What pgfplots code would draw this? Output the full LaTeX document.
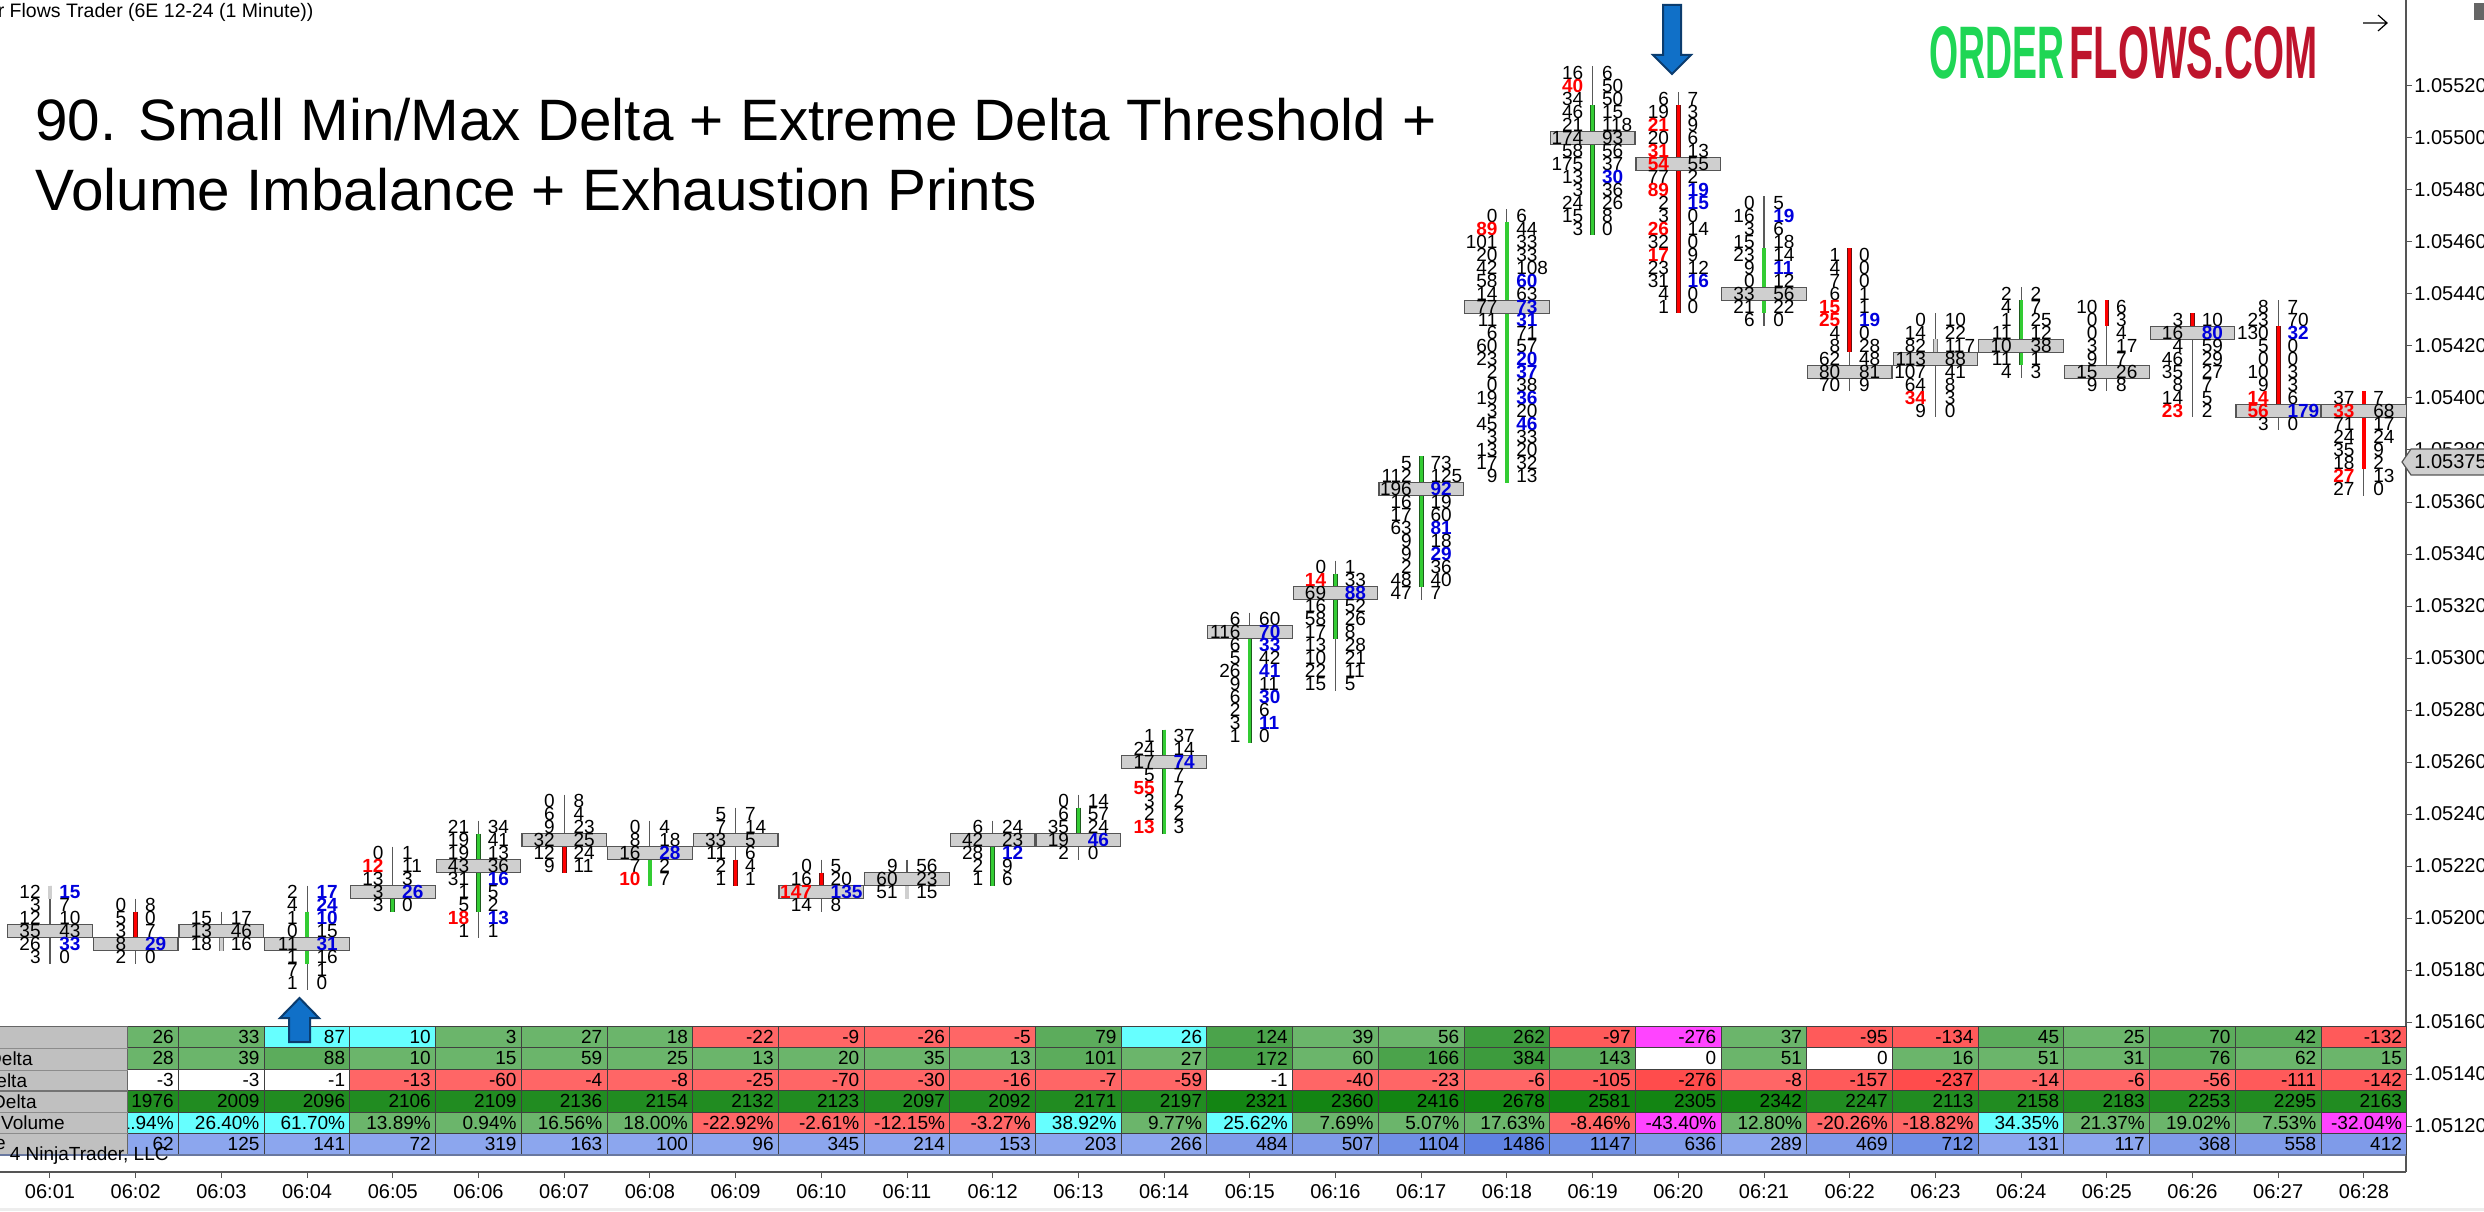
\documentclass[border=0pt]{standalone}
\usepackage{pgfplots}
\usepackage{pgfplotstable}
\usepackage{fontspec}
\pgfplotsset{compat=1.18}
\setmainfont{Liberation Sans}
\protected\def\R#1{\textcolor[HTML]{FF0000}{\bfseries #1}}
\protected\def\B#1{\textcolor[HTML]{0000DD}{\bfseries #1}}
\definecolor{gbar}{HTML}{33CC33}
\definecolor{rbar}{HTML}{FF0000}
\definecolor{gedge}{HTML}{1E5A1E}
\definecolor{redge}{HTML}{6A1010}
\definecolor{pocf}{HTML}{CFCFCF}
\definecolor{arrowf}{HTML}{1070C8}
\definecolor{arrowd}{HTML}{0B3C6E}
\definecolor{labelgray}{HTML}{C0C0C0}
\definecolor{axisc}{HTML}{555555}
\pgfdeclareplotmark{poc}{\pgfpathrectangle{\pgfpoint{-21.15pt}{-3.25pt}}{\pgfpoint{42.3pt}{6.5pt}}\pgfusepathqfillstroke}
\pgfdeclareplotmark{cell}{\pgfpathrectangle{\pgfpoint{-21.425pt}{-5.36pt}}{\pgfpoint{42.85pt}{10.72pt}}\pgfusepathqfillstroke}
% footprint: bar, price (1.05xxx -> xxx), bid, ask
\pgfplotstableread[row sep=\\]{
x v bid ask\\
1 210 12 \B{15}\\ 1 205 3 7\\ 1 200 12 10\\ 1 195 35 43\\ 1 190 26 \B{33}\\ 1 185 3 0\\
2 205 0 8\\ 2 200 5 0\\ 2 195 3 7\\ 2 190 8 \B{29}\\ 2 185 2 0\\
3 200 15 17\\ 3 195 13 46\\ 3 190 18 16\\
4 210 2 \B{17}\\ 4 205 4 \B{24}\\ 4 200 1 \B{10}\\ 4 195 0 15\\ 4 190 11 \B{31}\\ 4 185 1 16\\ 4 180 7 1\\ 4 175 1 0\\
5 225 0 1\\ 5 220 \R{12} 11\\ 5 215 13 3\\ 5 210 3 \B{26}\\ 5 205 3 0\\
6 235 21 34\\ 6 230 19 41\\ 6 225 19 13\\ 6 220 43 36\\ 6 215 31 \B{16}\\ 6 210 1 5\\ 6 205 5 2\\ 6 200 \R{18} \B{13}\\ 6 195 1 1\\
7 245 0 8\\ 7 240 6 4\\ 7 235 9 23\\ 7 230 32 25\\ 7 225 12 24\\ 7 220 9 11\\
8 235 0 4\\ 8 230 8 18\\ 8 225 16 \B{28}\\ 8 220 7 2\\ 8 215 \R{10} 7\\
9 240 5 7\\ 9 235 7 14\\ 9 230 33 5\\ 9 225 11 6\\ 9 220 2 4\\ 9 215 1 1\\
10 220 0 5\\ 10 215 16 20\\ 10 210 \R{147} \B{135}\\ 10 205 14 8\\
11 220 9 56\\ 11 215 60 23\\ 11 210 51 15\\
12 235 6 24\\ 12 230 42 23\\ 12 225 28 \B{12}\\ 12 220 2 9\\ 12 215 1 6\\
13 245 0 14\\ 13 240 6 57\\ 13 235 35 24\\ 13 230 19 \B{46}\\ 13 225 2 0\\
14 270 1 37\\ 14 265 24 14\\ 14 260 17 \B{74}\\ 14 255 5 7\\ 14 250 \R{55} 7\\ 14 245 3 2\\ 14 240 2 2\\ 14 235 \R{13} 3\\
15 315 6 60\\ 15 310 116 \B{70}\\ 15 305 6 \B{33}\\ 15 300 5 42\\ 15 295 26 \B{41}\\ 15 290 9 11\\ 15 285 6 \B{30}\\ 15 280 2 6\\ 15 275 3 \B{11}\\ 15 270 1 0\\
16 335 0 1\\ 16 330 \R{14} 33\\ 16 325 69 \B{88}\\ 16 320 16 52\\ 16 315 58 26\\ 16 310 17 8\\ 16 305 13 28\\ 16 300 10 21\\ 16 295 22 11\\ 16 290 15 5\\
17 375 5 73\\ 17 370 112 125\\ 17 365 196 \B{92}\\ 17 360 16 19\\ 17 355 17 60\\ 17 350 63 \B{81}\\ 17 345 9 18\\ 17 340 9 \B{29}\\ 17 335 2 36\\ 17 330 48 40\\ 17 325 47 7\\
18 470 0 6\\ 18 465 \R{89} 44\\ 18 460 101 33\\ 18 455 20 33\\ 18 450 42 108\\ 18 445 58 \B{60}\\ 18 440 14 63\\ 18 435 77 \B{73}\\ 18 430 11 \B{31}\\ 18 425 6 71\\ 18 420 60 57\\ 18 415 23 \B{20}\\ 18 410 2 \B{37}\\ 18 405 0 38\\ 18 400 19 \B{36}\\ 18 395 3 20\\ 18 390 45 \B{46}\\ 18 385 3 33\\ 18 380 13 20\\ 18 375 17 32\\ 18 370 9 13\\
19 525 16 6\\ 19 520 \R{40} 50\\ 19 515 34 50\\ 19 510 46 15\\ 19 505 21 118\\ 19 500 174 93\\ 19 495 58 56\\ 19 490 175 37\\ 19 485 13 \B{30}\\ 19 480 3 36\\ 19 475 24 26\\ 19 470 15 8\\ 19 465 3 0\\
20 515 6 7\\ 20 510 19 3\\ 20 505 \R{21} 9\\ 20 500 20 6\\ 20 495 \R{31} 13\\ 20 490 \R{54} 55\\ 20 485 77 2\\ 20 480 \R{89} \B{19}\\ 20 475 2 \B{15}\\ 20 470 3 0\\ 20 465 \R{26} 14\\ 20 460 32 0\\ 20 455 \R{17} 9\\ 20 450 23 12\\ 20 445 31 \B{16}\\ 20 440 4 0\\ 20 435 1 0\\
21 475 0 5\\ 21 470 16 \B{19}\\ 21 465 3 6\\ 21 460 15 18\\ 21 455 23 14\\ 21 450 9 \B{11}\\ 21 445 0 12\\ 21 440 33 56\\ 21 435 21 22\\ 21 430 6 0\\
22 455 1 0\\ 22 450 4 0\\ 22 445 7 0\\ 22 440 6 1\\ 22 435 \R{15} 1\\ 22 430 \R{25} \B{19}\\ 22 425 4 0\\ 22 420 8 28\\ 22 415 62 48\\ 22 410 80 81\\ 22 405 70 9\\
23 430 0 10\\ 23 425 14 22\\ 23 420 82 117\\ 23 415 113 88\\ 23 410 107 41\\ 23 405 64 8\\ 23 400 \R{34} 3\\ 23 395 9 0\\
24 440 2 2\\ 24 435 4 7\\ 24 430 1 25\\ 24 425 11 12\\ 24 420 10 38\\ 24 415 11 1\\ 24 410 4 3\\
25 435 10 6\\ 25 430 0 3\\ 25 425 0 4\\ 25 420 3 17\\ 25 415 9 7\\ 25 410 15 26\\ 25 405 9 8\\
26 430 3 10\\ 26 425 16 \B{80}\\ 26 420 4 59\\ 26 415 46 29\\ 26 410 35 27\\ 26 405 8 7\\ 26 400 14 5\\ 26 395 \R{23} 2\\
27 435 8 7\\ 27 430 23 70\\ 27 425 130 \B{32}\\ 27 420 5 0\\ 27 415 0 0\\ 27 410 10 3\\ 27 405 9 3\\ 27 400 \R{14} 6\\ 27 395 \R{56} \B{179}\\ 27 390 3 0\\
28 400 37 7\\ 28 395 \R{33} 68\\ 28 390 71 17\\ 28 385 24 24\\ 28 380 35 9\\ 28 375 18 2\\ 28 370 \R{27} 13\\ 28 365 27 0\\
}\footprint
% point of control per bar
\pgfplotstableread[row sep=\\]{
x v\\
1 195\\ 2 190\\ 3 195\\ 4 190\\ 5 210\\ 6 220\\ 7 230\\ 8 225\\ 9 230\\ 10 210\\ 11 215\\ 12 230\\ 13 230\\ 14 260\\ 15 310\\ 16 325\\ 17 365\\ 18 435\\ 19 500\\ 20 490\\ 21 440\\ 22 410\\ 23 415\\ 24 420\\ 25 410\\ 26 425\\ 27 395\\ 28 395\\
}\pocs
% table rows: bar, row height, colour index, text
\pgfplotstableread[row sep=\\]{
x y c t\\
2 113 12 62\\ 3 113 12 125\\ 4 113 12 141\\ 5 113 12 72\\ 6 113 12 319\\ 7 113 12 163\\ 8 113 12 100\\ 9 113 12 96\\ 10 113 12 345\\ 11 113 12 214\\ 12 113 12 153\\ 13 113 12 203\\ 14 113 12 266\\ 15 113 13 484\\ 16 113 13 507\\ 17 113 14 1104\\ 18 113 15 1486\\ 19 113 14 1147\\ 20 113 13 636\\ 21 113 12 289\\ 22 113 13 469\\ 23 113 14 712\\ 24 113 12 131\\ 25 113 12 117\\ 26 113 13 368\\ 27 113 13 558\\ 28 113 13 412\\
2 121.25 1 41.94\%\\ 3 121.25 1 26.40\%\\ 4 121.25 1 61.70\%\\ 5 121.25 3 13.89\%\\ 6 121.25 3 0.94\%\\ 7 121.25 3 16.56\%\\ 8 121.25 3 18.00\%\\ 9 121.25 7 -22.92\%\\ 10 121.25 7 -2.61\%\\ 11 121.25 7 -12.15\%\\ 12 121.25 7 -3.27\%\\ 13 121.25 1 38.92\%\\ 14 121.25 3 9.77\%\\ 15 121.25 1 25.62\%\\ 16 121.25 3 7.69\%\\ 17 121.25 3 5.07\%\\ 18 121.25 3 17.63\%\\ 19 121.25 7 -8.46\%\\ 20 121.25 2 -43.40\%\\ 21 121.25 3 12.80\%\\ 22 121.25 7 -20.26\%\\ 23 121.25 7 -18.82\%\\ 24 121.25 1 34.35\%\\ 25 121.25 3 21.37\%\\ 26 121.25 3 19.02\%\\ 27 121.25 3 7.53\%\\ 28 121.25 2 -32.04\%\\
2 129.5 10 1976\\ 3 129.5 10 2009\\ 4 129.5 10 2096\\ 5 129.5 10 2106\\ 6 129.5 10 2109\\ 7 129.5 10 2136\\ 8 129.5 10 2154\\ 9 129.5 10 2132\\ 10 129.5 10 2123\\ 11 129.5 10 2097\\ 12 129.5 10 2092\\ 13 129.5 10 2171\\ 14 129.5 10 2197\\ 15 129.5 11 2321\\ 16 129.5 11 2360\\ 17 129.5 11 2416\\ 18 129.5 11 2678\\ 19 129.5 11 2581\\ 20 129.5 11 2305\\ 21 129.5 11 2342\\ 22 129.5 10 2247\\ 23 129.5 10 2113\\ 24 129.5 10 2158\\ 25 129.5 10 2183\\ 26 129.5 10 2253\\ 27 129.5 10 2295\\ 28 129.5 10 2163\\
2 137.75 0 -3\\ 3 137.75 0 -3\\ 4 137.75 0 -1\\ 5 137.75 7 -13\\ 6 137.75 7 -60\\ 7 137.75 7 -4\\ 8 137.75 7 -8\\ 9 137.75 7 -25\\ 10 137.75 7 -70\\ 11 137.75 7 -30\\ 12 137.75 7 -16\\ 13 137.75 7 -7\\ 14 137.75 7 -59\\ 15 137.75 0 -1\\ 16 137.75 7 -40\\ 17 137.75 7 -23\\ 18 137.75 7 -6\\ 19 137.75 8 -105\\ 20 137.75 9 -276\\ 21 137.75 7 -8\\ 22 137.75 8 -157\\ 23 137.75 9 -237\\ 24 137.75 7 -14\\ 25 137.75 7 -6\\ 26 137.75 7 -56\\ 27 137.75 8 -111\\ 28 137.75 8 -142\\
2 146 3 28\\ 3 146 3 39\\ 4 146 4 88\\ 5 146 3 10\\ 6 146 3 15\\ 7 146 3 59\\ 8 146 3 25\\ 9 146 3 13\\ 10 146 3 20\\ 11 146 3 35\\ 12 146 3 13\\ 13 146 4 101\\ 14 146 3 27\\ 15 146 5 172\\ 16 146 3 60\\ 17 146 5 166\\ 18 146 6 384\\ 19 146 4 143\\ 20 146 0 0\\ 21 146 3 51\\ 22 146 0 0\\ 23 146 3 16\\ 24 146 3 51\\ 25 146 3 31\\ 26 146 4 76\\ 27 146 3 62\\ 28 146 3 15\\
2 154.25 3 26\\ 3 154.25 3 33\\ 4 154.25 1 87\\ 5 154.25 1 10\\ 6 154.25 3 3\\ 7 154.25 3 27\\ 8 154.25 3 18\\ 9 154.25 7 -22\\ 10 154.25 7 -9\\ 11 154.25 7 -26\\ 12 154.25 7 -5\\ 13 154.25 4 79\\ 14 154.25 1 26\\ 15 154.25 5 124\\ 16 154.25 3 39\\ 17 154.25 3 56\\ 18 154.25 6 262\\ 19 154.25 8 -97\\ 20 154.25 2 -276\\ 21 154.25 3 37\\ 22 154.25 8 -95\\ 23 154.25 8 -134\\ 24 154.25 4 45\\ 25 154.25 3 25\\ 26 154.25 4 70\\ 27 154.25 4 42\\ 28 154.25 8 -132\\
}\cells
\newcommand{\px}[2]{{#1*0.5pt},{(1211-#2)*0.5pt}}
\begin{document}
\begin{tikzpicture}[x=1pt,y=1pt]
\path[use as bounding box] (0,0) rectangle (1242,605.5);
\begin{axis}[
  at={(0pt,19.5pt)},anchor=south west,
  scale only axis,width=1203pt,height=586pt,
  xmin=0.4166,xmax=28.4915,ymin=102.31,ymax=553.08,
  axis x line*=bottom,axis y line*=right,
  axis line style={-,draw=axisc,line width=0.7pt},
  tick style={draw=axisc,line width=0.5pt},
  tick align=outside,major tick length=3pt,
  xtick={1,...,28},
  xticklabels={06:01,06:02,06:03,06:04,06:05,06:06,06:07,06:08,06:09,06:10,06:11,06:12,06:13,06:14,06:15,06:16,06:17,06:18,06:19,06:20,06:21,06:22,06:23,06:24,06:25,06:26,06:27,06:28},
  ytick={120,140,...,520},
  yticklabels={1.05120,1.05140,1.05160,1.05180,1.05200,1.05220,1.05240,1.05260,1.05280,1.05300,1.05320,1.05340,1.05360,1.05380,1.05400,1.05420,1.05440,1.05460,1.05480,1.05500,1.05520},
  x tick label style={font=\fontsize{10}{10}\selectfont,inner sep=0pt,yshift=-3pt},
  y tick label style={font=\fontsize{10}{10}\selectfont,inner sep=0pt,anchor=west,xshift=1pt},
  colormap={fp}{rgb255=(255,255,255) rgb255=(102,255,255) rgb255=(255,68,255)
    rgb255=(107,181,107) rgb255=(92,172,92) rgb255=(75,163,75) rgb255=(61,155,61)
    rgb255=(255,102,102) rgb255=(255,90,90) rgb255=(255,76,76)
    rgb255=(33,140,33) rgb255=(19,133,19)
    rgb255=(140,166,238) rgb255=(127,155,233) rgb255=(112,144,230) rgb255=(95,130,226)},
  point meta min=0,point meta max=15,
  unbounded coords=jump,
]
% indicator table
\addplot[scatter,only marks,mark=cell,scatter src=explicit,line width=0.5pt,
  scatter/use mapped color={draw=black!75,fill=mapped color},forget plot]
  table[x=x,y=y,meta=c]{\cells};
\addplot[draw=none,mark=none,forget plot,point meta=explicit symbolic,
  nodes near coords={\pgfplotspointmeta},
  nodes near coords style={anchor=east,xshift=19.2pt,inner sep=0pt,text=black,font=\fontsize{9.5}{9.5}\selectfont}]
  table[x=x,y=y,meta=t]{\cells};
% point of control boxes
\addplot[only marks,mark=poc,mark options={fill=pocf,draw=axisc,line width=0.6pt},forget plot]
  table[x=x,y=v]{\pocs};
% wicks
\addplot[draw=black!65,line width=0.55pt,mark=none,forget plot] coordinates {
(1,212.5)(1,182.5)(nan,nan)(2,207.5)(2,182.5)(nan,nan)(3,202.5)(3,187.5)(nan,nan)(4,212.5)(4,172.5)(nan,nan)
(5,227.5)(5,202.5)(nan,nan)(6,237.5)(6,192.5)(nan,nan)(7,247.5)(7,217.5)(nan,nan)(8,237.5)(8,212.5)(nan,nan)
(9,242.5)(9,212.5)(nan,nan)(10,222.5)(10,202.5)(nan,nan)(11,222.5)(11,207.5)(nan,nan)(12,237.5)(12,212.5)(nan,nan)
(13,247.5)(13,222.5)(nan,nan)(14,272.5)(14,232.5)(nan,nan)(15,317.5)(15,267.5)(nan,nan)(16,337.5)(16,287.5)(nan,nan)
(17,377.5)(17,322.5)(nan,nan)(18,472.5)(18,367.5)(nan,nan)(19,527.5)(19,462.5)(nan,nan)(20,517.5)(20,432.5)(nan,nan)
(21,477.5)(21,427.5)(nan,nan)(22,457.5)(22,402.5)(nan,nan)(23,432.5)(23,392.5)(nan,nan)(24,442.5)(24,407.5)(nan,nan)
(25,437.5)(25,402.5)(nan,nan)(26,432.5)(26,392.5)(nan,nan)(27,437.5)(27,387.5)(nan,nan)(28,402.5)(28,362.5)};
% bodies: up bars
\addplot[draw=gedge,line width=2.3pt,mark=none,forget plot] coordinates {
(4,202.5)(4,182.5)(nan,nan)(5,212.5)(5,202.5)(nan,nan)(6,232.5)(6,202.5)(nan,nan)(8,222.5)(8,212.5)(nan,nan)
(12,232.5)(12,212.5)(nan,nan)(13,242.5)(13,232.5)(nan,nan)(14,272.5)(14,232.5)(nan,nan)(15,312.5)(15,267.5)(nan,nan)
(16,332.5)(16,307.5)(nan,nan)(17,377.5)(17,327.5)(nan,nan)(18,467.5)(18,367.5)(nan,nan)(19,512.5)(19,462.5)(nan,nan)
(21,457.5)(21,432.5)(nan,nan)(24,437.5)(24,412.5)};
\addplot[draw=gbar,line width=1.6pt,mark=none,forget plot] coordinates {
(4,202.5)(4,182.5)(nan,nan)(5,212.5)(5,202.5)(nan,nan)(6,232.5)(6,202.5)(nan,nan)(8,222.5)(8,212.5)(nan,nan)
(12,232.5)(12,212.5)(nan,nan)(13,242.5)(13,232.5)(nan,nan)(14,272.5)(14,232.5)(nan,nan)(15,312.5)(15,267.5)(nan,nan)
(16,332.5)(16,307.5)(nan,nan)(17,377.5)(17,327.5)(nan,nan)(18,467.5)(18,367.5)(nan,nan)(19,512.5)(19,462.5)(nan,nan)
(21,457.5)(21,432.5)(nan,nan)(24,437.5)(24,412.5)};
% bodies: down bars
\addplot[draw=redge,line width=2.3pt,mark=none,forget plot] coordinates {
(2,202.5)(2,192.5)(nan,nan)(7,232.5)(7,217.5)(nan,nan)(9,222.5)(9,212.5)(nan,nan)(10,217.5)(10,207.5)(nan,nan)
(20,512.5)(20,432.5)(nan,nan)(22,457.5)(22,417.5)(nan,nan)(25,437.5)(25,427.5)(nan,nan)(26,432.5)(26,422.5)(nan,nan)
(27,427.5)(27,392.5)(nan,nan)(28,402.5)(28,372.5)};
\addplot[draw=rbar,line width=1.6pt,mark=none,forget plot] coordinates {
(2,202.5)(2,192.5)(nan,nan)(7,232.5)(7,217.5)(nan,nan)(9,222.5)(9,212.5)(nan,nan)(10,217.5)(10,207.5)(nan,nan)
(20,512.5)(20,432.5)(nan,nan)(22,457.5)(22,417.5)(nan,nan)(25,437.5)(25,427.5)(nan,nan)(26,432.5)(26,422.5)(nan,nan)
(27,427.5)(27,392.5)(nan,nan)(28,402.5)(28,372.5)};
% bodies: doji bars
\addplot[draw=black!55,line width=2.3pt,mark=none,forget plot] coordinates {
(1,212.5)(1,207.5)(nan,nan)(3,192.5)(3,187.5)(nan,nan)(11,212.5)(11,207.5)(nan,nan)(23,422.5)(23,417.5)};
\addplot[draw=pocf,line width=1.6pt,mark=none,forget plot] coordinates {
(1,212.5)(1,207.5)(nan,nan)(3,192.5)(3,187.5)(nan,nan)(11,212.5)(11,207.5)(nan,nan)(23,422.5)(23,417.5)};
% bid and ask columns
\addplot[draw=none,mark=none,forget plot,point meta=explicit symbolic,
  nodes near coords={\pgfplotspointmeta},
  nodes near coords style={anchor=east,xshift=-4.5pt,inner sep=0pt,text=black,font=\fontsize{9.5}{9.5}\selectfont}]
  table[x=x,y=v,meta=bid]{\footprint};
\addplot[draw=none,mark=none,forget plot,point meta=explicit symbolic,
  nodes near coords={\pgfplotspointmeta},
  nodes near coords style={anchor=west,xshift=4.5pt,inner sep=0pt,text=black,font=\fontsize{9.5}{9.5}\selectfont}]
  table[x=x,y=v,meta=ask]{\footprint};
\end{axis}
% row label column
\fill[labelgray] (\px{0}{1026}) rectangle (\px{127.6}{1155});
\draw[black!60,line width=0.5pt] (\px{0}{1026}) -- (\px{127.6}{1026}) -- (\px{127.6}{1155});
\foreach \yy in {1048,1070,1112,1133} \draw[black!45,line width=0.4pt] (\px{0}{\yy}) -- (\px{127.6}{\yy});
\draw[black!55,line width=1pt] (\px{0}{1091}) -- (\px{127.6}{1091});
\draw[color={rgb,255:red,105;green,120;blue,160},line width=0.9pt] (\px{0}{1155}) -- (\px{2406}{1155});
\begin{scope}[every node/.style={inner sep=0pt,font=\fontsize{9.5}{9.5}\selectfont,anchor=east}]
\node at (\px{33}{1059}) {Delta};
\node at (\px{27.5}{1080.5}) {elta};
\node at (\px{37}{1101.5}) {Delta};
\node at (\px{65}{1122.5}) {Volume};
\node at (\px{6}{1144}) {e};
\node at (\px{169}{1156}) {4 NinjaTrader, LLC};
\end{scope}
% header and title
\node[anchor=west,inner sep=0pt,font=\fontsize{9.75}{9.75}\selectfont] at (\px{-2.6}{12}) {r Flows Trader (6E 12-24 (1 Minute))};
\node[anchor=base west,inner sep=0pt,font=\fontsize{29.2}{29.2}\selectfont] at (\px{35}{141}) {90. Small Min/Max Delta + Extreme Delta Threshold +};
\node[anchor=base west,inner sep=0pt,font=\fontsize{29.2}{29.2}\selectfont] at (\px{35}{211}) {Volume Imbalance + Exhaustion Prints};
% logo
\node[anchor=north west,inner sep=0pt,text={rgb,255:red,31;green,214;blue,85}] at (\px{1929}{26}) {\resizebox{67.5pt}{26pt}{\bfseries ORDER}};
\node[anchor=north west,inner sep=0pt,text={rgb,255:red,190;green,20;blue,44}] at (\px{2069}{26}) {\resizebox{124pt}{26pt}{\bfseries FLOWS.COM}};
% arrows
\draw[fill=arrowf,draw=arrowd,line width=1pt,line join=miter] (\px{299.5}{998}) -- (\px{319}{1018}) -- (\px{310}{1018}) -- (\px{310}{1042}) -- (\px{289}{1042}) -- (\px{289}{1018}) -- (\px{280}{1018}) -- cycle;
\draw[fill=arrowf,draw=arrowd,line width=1pt,line join=miter] (\px{1672}{74}) -- (\px{1691}{55}) -- (\px{1681}{55}) -- (\px{1681}{5}) -- (\px{1663}{5}) -- (\px{1663}{55}) -- (\px{1653}{55}) -- cycle;
% last price marker
\draw[fill=pocf,draw=axisc,line width=0.6pt] (\px{2402}{462}) -- (\px{2411}{449}) -- (\px{2490}{449}) -- (\px{2490}{475}) -- (\px{2411}{475}) -- cycle;
\node[anchor=west,inner sep=0pt,font=\fontsize{10}{10}\selectfont] at (\px{2414}{462}) {1.05375};
% chart furniture
\draw[black,line width=0.6pt] (\px{2363}{23}) -- (\px{2387}{23}) (\px{2378}{15}) -- (\px{2387}{23}) -- (\px{2378}{31});
\fill[black!60] (\px{2474}{3}) rectangle (\px{2484}{20});
\fill[black!7] (\px{0}{1208}) rectangle (\px{2484}{1211});
\end{tikzpicture}
\end{document}
